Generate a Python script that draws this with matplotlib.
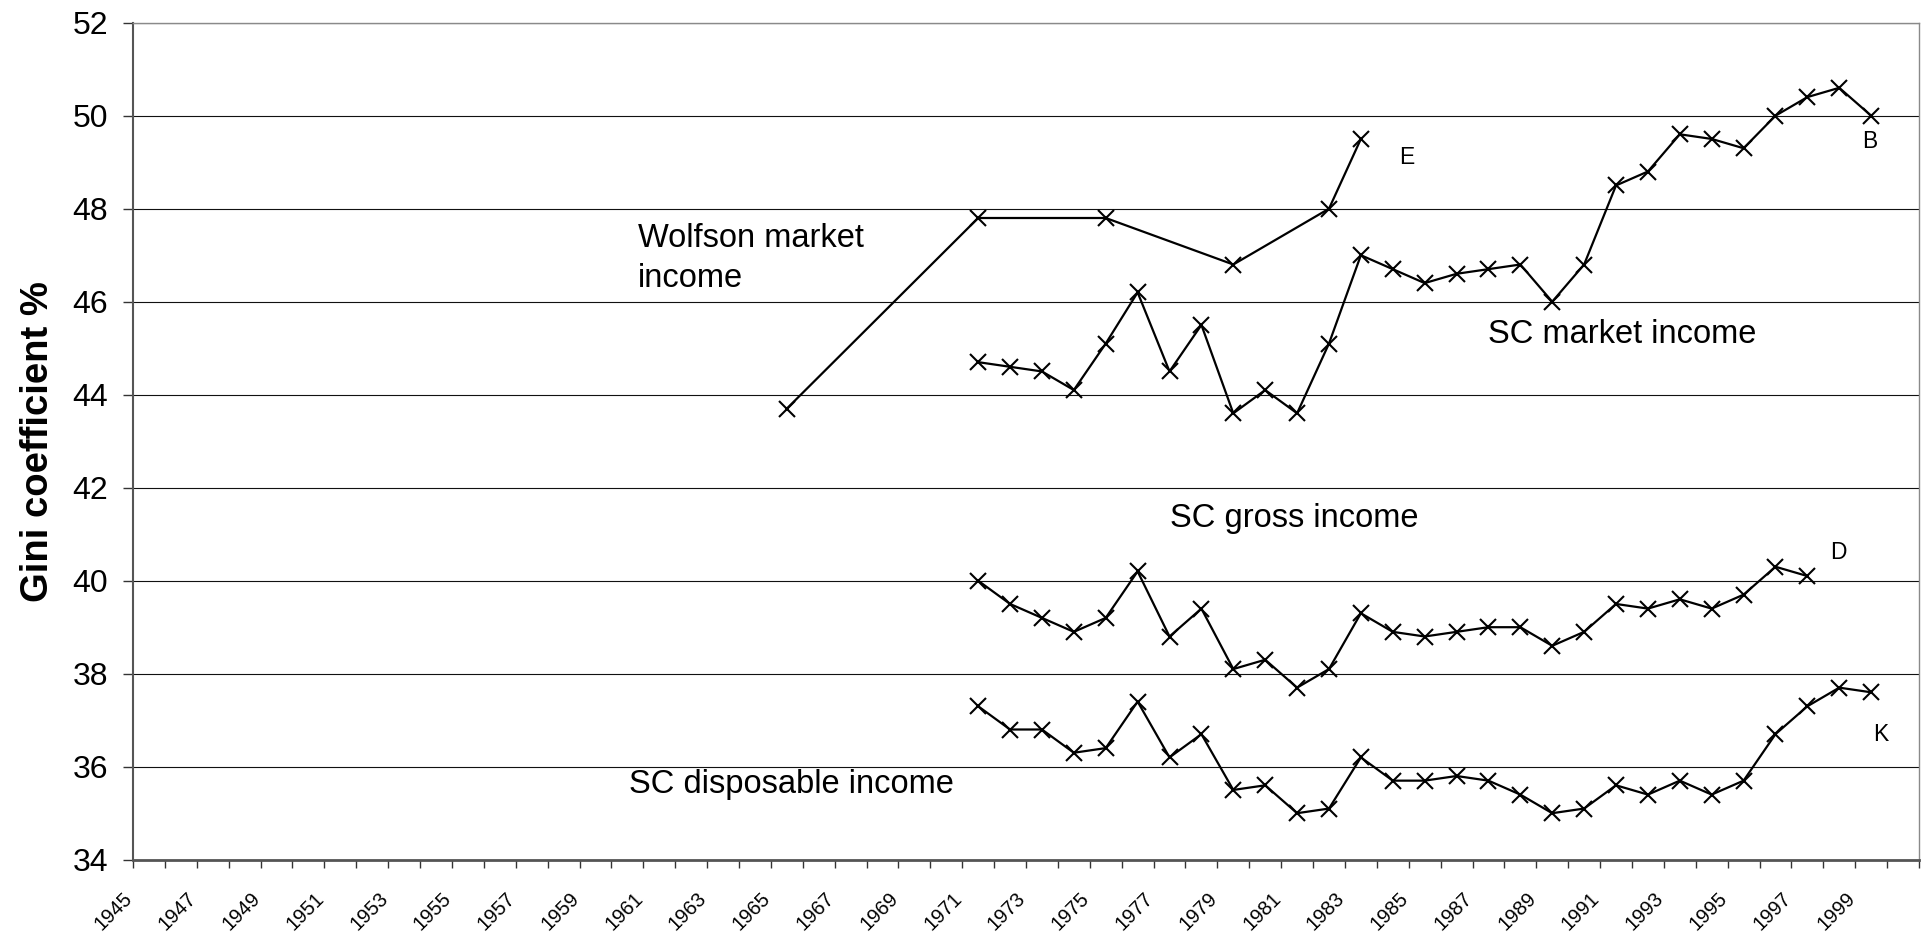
import matplotlib
matplotlib.use("Agg")
import matplotlib.pyplot as plt
from matplotlib.transforms import ScaledTranslation

plt.rcParams['font.family'] = ['Liberation Sans', 'DejaVu Sans']

# ---------------- data ----------------
categories = list(range(1945, 2001))
tick_label_years = list(range(1945, 2000, 2))

wolfson_years = [1965, 1971, 1975, 1979, 1982, 1983]
wolfson_market = [43.7, 47.8, 47.8, 46.8, 48.0, 49.5]

sc_years = list(range(1971, 2000))
sc_market = [44.7, 44.6, 44.5, 44.1, 45.1, 46.2, 44.5, 45.5, 43.6, 44.1,
             43.6, 45.1, 47.0, 46.7, 46.4, 46.6, 46.7, 46.8, 46.0, 46.8,
             48.5, 48.8, 49.6, 49.5, 49.3, 50.0, 50.4, 50.6, 50.0]

sc_gross_years = list(range(1971, 1998))
sc_gross = [40.0, 39.5, 39.2, 38.9, 39.2, 40.2, 38.8, 39.4, 38.1, 38.3,
            37.7, 38.1, 39.3, 38.9, 38.8, 38.9, 39.0, 39.0, 38.6, 38.9,
            39.5, 39.4, 39.6, 39.4, 39.7, 40.3, 40.1]

sc_disposable = [37.3, 36.8, 36.8, 36.3, 36.4, 37.4, 36.2, 36.7, 35.5, 35.6,
                 35.0, 35.1, 36.2, 35.7, 35.7, 35.8, 35.7, 35.4, 35.0, 35.1,
                 35.6, 35.4, 35.7, 35.4, 35.7, 36.7, 37.3, 37.7, 37.6]

y_ticks = list(range(34, 53, 2))
y_label = "Gini coefficient %"

# ---------------- figure ----------------
W, H, DPI = 1930, 936, 100
fig = plt.figure(figsize=(W / DPI, H / DPI), dpi=DPI)
left_px, right_px, top_px, bottom_px = 133, 1919, 22.7, 859.7
ax = fig.add_axes([left_px / W, 1 - bottom_px / H,
                   (right_px - left_px) / W, (bottom_px - top_px) / H])

series = [
    (wolfson_years, wolfson_market),
    (sc_years, sc_market),
    (sc_gross_years, sc_gross),
    (sc_years, sc_disposable),
]
for yrs, vals in series:
    ax.plot(yrs, vals, color='black', lw=1.6, marker='x', ms=11, mew=1.5,
            zorder=3, clip_on=False)

ax.set_xlim(categories[0] - 0.5, categories[-1] + 0.5)
ax.set_ylim(y_ticks[0], y_ticks[-1])

# y axis
ax.set_yticks(y_ticks)
ax.set_yticklabels([str(v) for v in y_ticks])
ax.tick_params(axis='y', labelsize=23, length=7, width=1, color='#333333',
               pad=11, direction='out')
ax.yaxis.grid(True, color='#111111', lw=0.8)
ax.set_axisbelow(True)

# x axis: ticks at category boundaries, labels at category centres
ax.set_xticks([c - 0.5 for c in categories] + [categories[-1] + 0.5])
ax.tick_params(axis='x', which='major', length=6, width=1, color='#333333',
               labelbottom=False, direction='out')
ax.set_xticks(tick_label_years, minor=True)
ax.set_xticklabels([str(y) for y in tick_label_years], minor=True,
                   rotation=45, ha='right', rotation_mode='anchor',
                   fontsize=14.5)
ax.tick_params(axis='x', which='minor', length=0, pad=21)
offset = ScaledTranslation(-26 / DPI, 0, fig.dpi_scale_trans)
for lab in ax.get_xticklabels(minor=True):
    lab.set_transform(lab.get_transform() + offset)

# spines
ax.spines['left'].set_color('#555555')
ax.spines['left'].set_linewidth(1.5)
ax.spines['bottom'].set_color('#555555')
ax.spines['bottom'].set_linewidth(2)
for s in ('top', 'right'):
    ax.spines[s].set_color('#8a8a8a')
    ax.spines[s].set_linewidth(1)

# y label
fig.text(38.5 / W, 1 - 442 / H, y_label, rotation=90, ha='center', va='center',
         fontsize=27.5, fontweight='bold')

# series annotations
big = 23.5
small = 16.5
ax.text(1960.33, 47.176, "Wolfson market", fontsize=big, va='baseline')
ax.text(1960.33, 46.316, "income", fontsize=big, va='baseline')
ax.text(1986.98, 45.112, "SC market income", fontsize=big, va='baseline')
ax.text(1977.03, 41.155, "SC gross income", fontsize=big, va='baseline')
ax.text(1960.05, 35.434, "SC disposable income", fontsize=big, va='baseline')
ax.text(1984.2, 48.961, "E", fontsize=small, va='baseline')
ax.text(1998.72, 49.312, "B", fontsize=small, va='baseline')
ax.text(1997.72, 40.467, "D", fontsize=small, va='baseline')
ax.text(1999.05, 36.559, "K", fontsize=small, va='baseline')

fig.savefig("out.png", dpi=DPI, facecolor='white')
